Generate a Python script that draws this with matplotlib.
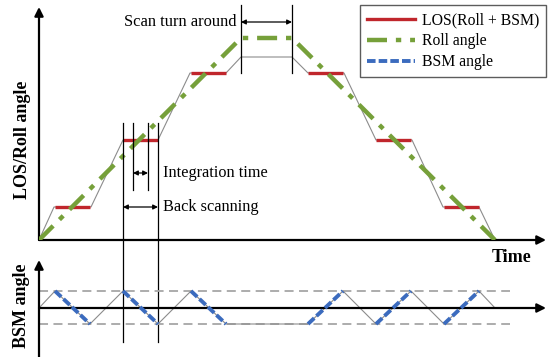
import numpy as np
import matplotlib.pyplot as plt
from matplotlib.lines import Line2D

# time axis and angle values (arbitrary units)
los_t = [0, 15, 52, 84, 119, 151, 187, 202, 253, 269, 305, 337, 373, 404, 440, 456]
los_v = [0, 33, 33, 100, 100, 167, 167, 183, 183, 167, 167, 100, 100, 33, 33, 0]

roll_t = [0, 202, 253, 456]
roll_v = [0, 202, 202, 0]

# integration windows (red LOS plateaus)
integ = [(16, 51), (84, 119), (152, 187), (269, 304), (337, 372), (405, 440)]
integ_level = [33, 100, 167, 167, 100, 33]

bsm_t = [0, 16, 51, 84, 119, 152, 187, 269, 304, 337, 372, 405, 440, 456]
bsm_v = [0, 17, -16, 17, -16, 17, -16, -16, 17, -16, 17, -16, 17, 0]
bsm_lim = [17, -16]

legend_labels = ['LOS(Roll + BSM)', 'Roll angle', 'BSM angle']

RED = '#C0262C'
GREEN = '#76A03A'
BLUE = '#3B6BBE'
GRAY = '#8C8C8C'

plt.rcParams['font.family'] = ['Liberation Serif', 'DejaVu Serif']

W, H = 552, 357
fig = plt.figure(figsize=(W / 100, H / 100), dpi=100)


def px_axes(x0, x1, ytop, ybot):
    return fig.add_axes([x0 / W, 1 - ybot / H, (x1 - x0) / W, (ybot - ytop) / H])


ax = px_axes(39, 552, 0, 240)
ax.set_xlim(0, 513)
ax.set_ylim(0, 240)
ax.axis('off')

bx = px_axes(39, 552, 250, 357)
bx.set_xlim(0, 513)
bx.set_ylim(-49, 58)
bx.axis('off')

arrow = dict(arrowstyle='-|>', color='black', lw=1.6, mutation_scale=13, shrinkA=0, shrinkB=0)

# top panel axes
ax.annotate('', xy=(0, 233), xytext=(0, 0), arrowprops=arrow, annotation_clip=False)
ax.annotate('', xy=(507, 0), xytext=(0, 0), arrowprops=arrow, annotation_clip=False)

ax.plot(los_t, los_v, color=GRAY, lw=0.8, zorder=2)
for (a, b), lv in zip(integ, integ_level):
    ax.plot([a, b], [lv, lv], color=RED, lw=2.4, solid_capstyle='butt', zorder=3)
roll_dash = (4.5, 2.0, 1.2, 2.0)
ax.plot(roll_t, roll_v, color=GREEN, lw=3.2, dashes=roll_dash, zorder=4)

# integration / back scanning markers
for x in (84, 119):
    ax.plot([x, x], [117, -102], color='black', lw=0.9, clip_on=False, zorder=5)
for x in (94, 109):
    ax.plot([x, x], [117, 50], color='black', lw=0.9, zorder=5)
dbl = dict(arrowstyle='<|-|>', color='black', lw=0.9, mutation_scale=7, shrinkA=0, shrinkB=0)
ax.annotate('', xy=(94, 67), xytext=(109, 67), arrowprops=dbl)
ax.annotate('', xy=(84, 33), xytext=(119, 33), arrowprops=dbl)
ax.text(124, 67, 'Integration time', fontsize=11.7, va='center', ha='left')
ax.text(124, 33, 'Back scanning', fontsize=11.7, va='center', ha='left')

# scan turn around
for x in (202, 253):
    ax.plot([x, x], [235, 167], color='black', lw=0.9, zorder=5)
ax.annotate('', xy=(202, 218), xytext=(253, 218), arrowprops=dbl)
ax.text(197, 218, 'Scan turn around', fontsize=11.9, va='center', ha='right')

ax.text(473, -17, 'Time', fontsize=13, fontweight='bold', va='center', ha='center')
fig.text(23 / W, 1 - 140 / H, 'LOS/Roll angle', fontsize=13, fontweight='bold',
         rotation=90, va='center', ha='center')

handles = [
    Line2D([], [], color=RED, lw=2.4),
    Line2D([], [], color=GREEN, lw=3.2, dashes=roll_dash),
    Line2D([], [], color=BLUE, lw=2.8, dashes=(2.2, 0.8)),
]
leg = ax.legend(handles, legend_labels, loc='upper right', bbox_to_anchor=(546 / W, 1 - 5 / H),
                bbox_transform=fig.transFigure, fontsize=11.3, frameon=True, fancybox=False,
                handlelength=3.0, handletextpad=0.45, borderpad=0.45, labelspacing=0.32,
                borderaxespad=0)
leg.get_frame().set_edgecolor('#333333')
leg.get_frame().set_linewidth(1.0)

# bottom panel (BSM)
bx.annotate('', xy=(0, 48), xytext=(0, -49), arrowprops=arrow, annotation_clip=False)
bx.annotate('', xy=(507, 0), xytext=(0, 0), arrowprops=arrow, annotation_clip=False)
for lv in bsm_lim:
    bx.plot([0, 471], [lv, lv], color='#A6A6A6', lw=1.3, dashes=(5, 3), zorder=1)
bx.plot(bsm_t, bsm_v, color=GRAY, lw=0.8, zorder=2)
# BSM motion during each integration window
for a, b in integ:
    seg_t = [a, b]
    bx.plot(seg_t, np.interp(seg_t, bsm_t, bsm_v), color=BLUE, lw=2.8,
            dashes=(2.2, 0.8), zorder=3)

fig.text(22 / W, 1 - 306 / H, 'BSM angle', fontsize=13, fontweight='bold',
         rotation=90, va='center', ha='center')

fig.savefig('out.png', dpi=100)
